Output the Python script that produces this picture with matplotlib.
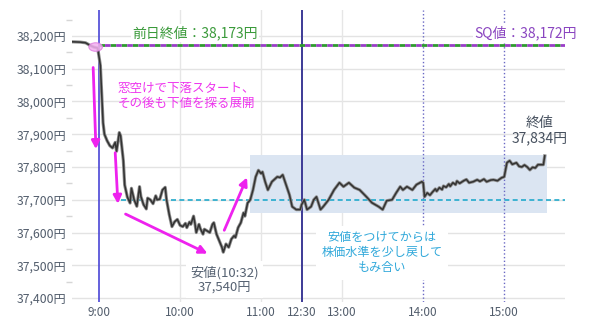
import matplotlib
matplotlib.use("Agg")
import matplotlib.pyplot as plt
from matplotlib.patches import Ellipse, Rectangle
from matplotlib.ticker import FuncFormatter, MultipleLocator

plt.rcParams['font.family'] = ['Noto Sans CJK JP', 'DejaVu Sans']

# intraday prices (clock time, yen)
times = ["8:40", "8:46", "8:50", "8:53", "8:56", "8:59",
         "9:01", "9:02", "9:03", "9:04", "9:06", "9:08", "9:10", "9:12", "9:13", "9:15",
         "9:16", "9:18", "9:19", "9:21", "9:23", "9:24", "9:26", "9:28", "9:30", "9:31",
         "9:33", "9:35", "9:36", "9:38", "9:40", "9:42", "9:43", "9:45", "9:47", "9:49",
         "9:50", "9:52", "9:54", "9:56", "9:58", "10:00", "10:02", "10:04", "10:05", "10:07",
         "10:08", "10:10", "10:11", "10:12", "10:14", "10:15", "10:17", "10:18", "10:20", "10:22",
         "10:24", "10:25", "10:27", "10:29", "10:31", "10:32", "10:34", "10:36", "10:38", "10:40",
         "10:41", "10:43", "10:45", "10:47", "10:48", "10:50", "10:52", "10:54", "10:56", "10:58",
         "11:00", "11:01", "11:03", "11:05", "11:08", "11:12", "11:14", "11:16", "11:19", "11:21",
         "11:23", "11:26", "11:29",
         "12:30", "12:32", "12:34", "12:37", "12:39", "12:41", "12:44", "12:46", "12:50", "12:54",
         "12:58", "13:01", "13:05", "13:09", "13:13", "13:18", "13:22", "13:27", "13:30", "13:33",
         "13:37", "13:40", "13:43", "13:45", "13:48", "13:52", "13:55", "13:59", "14:00", "14:01",
         "14:03", "14:05", "14:07", "14:09", "14:10", "14:12", "14:14", "14:15", "14:17", "14:19",
         "14:20", "14:22", "14:24", "14:25", "14:27", "14:30", "14:32", "14:34", "14:37", "14:40",
         "14:42", "14:45", "14:47", "14:50", "14:52", "14:55", "14:58", "15:00", "15:02", "15:04",
         "15:06", "15:09", "15:11", "15:13", "15:15", "15:17", "15:19", "15:21", "15:23", "15:25",
         "15:29", "15:30"]
prices = [38182, 38181, 38179, 38172, 38166, 38163,
          38110, 38020, 37935, 37900, 37880, 37865, 37858, 37875, 37848, 37905,
          37895, 37820, 37745, 37708, 37690, 37735, 37700, 37680, 37740, 37710,
          37685, 37672, 37705, 37700, 37688, 37712, 37700, 37702, 37730, 37738,
          37700, 37655, 37618, 37633, 37640, 37622, 37618, 37628, 37615, 37632,
          37625, 37650, 37628, 37600, 37625, 37612, 37595, 37610, 37605, 37600,
          37625, 37630, 37595, 37575, 37555, 37540, 37565, 37555, 37580, 37590,
          37585, 37615, 37630, 37660, 37650, 37690, 37700, 37730, 37770, 37790,
          37780, 37785, 37755, 37730, 37755, 37770, 37768, 37776, 37740, 37715,
          37679, 37670, 37670,
          37685, 37700, 37670, 37679, 37700, 37709, 37670, 37679, 37700, 37730,
          37752, 37740, 37752, 37737, 37730, 37709, 37691, 37679, 37670, 37697,
          37700, 37721, 37740, 37730, 37740, 37730, 37746, 37755, 37752, 37709,
          37721, 37714, 37724, 37733, 37726, 37737, 37731, 37742, 37738, 37748,
          37741, 37752, 37746, 37757, 37750, 37758, 37762, 37752, 37755, 37761,
          37756, 37763, 37755, 37760, 37761, 37758, 37767, 37770, 37813, 37819,
          37808, 37813, 37802, 37800, 37806, 37800, 37791, 37799, 37797, 37807,
          37807, 37834]

prev_close = 38173
sq_value = 38172
support = 37700
box_range = (37660, 37838)
box_times = ("10:52", "15:32")

xtick_times = ["9:00", "10:00", "11:00", "12:30", "13:00", "14:00", "15:00"]
grid_times = ["10:00", "11:00", "13:00"]


def pos(t):
    # minutes from 9:00, lunch break (11:30-12:30) removed
    h, m = t.split(":")
    v = int(h) * 60 + int(m) - 540
    if v >= 210:
        v -= 60
    return v


x = [pos(t) for t in times]

fig = plt.figure(figsize=(6, 3.23), dpi=100)
ax = fig.add_axes([72 / 600, 1 - 302 / 323, 493 / 600, 292 / 323])
ax.set_xlim(-20, 345)
ax.set_ylim(37388, 38279)

for s in ax.spines.values():
    s.set_visible(False)

# grid
ax.yaxis.set_major_locator(MultipleLocator(100))
ax.yaxis.set_minor_locator(MultipleLocator(50))
for v in range(37400, 38201, 100):
    ax.axhline(v, color="#e3e3e3", lw=1, zorder=0)
for t in grid_times:
    ax.axvline(pos(t), color="#e6e6e6", lw=1, zorder=0)

# range box
ax.add_patch(Rectangle((pos(box_times[0]), box_range[0]),
                       pos(box_times[1]) - pos(box_times[0]), box_range[1] - box_range[0],
                       facecolor="#dbe5f2", edgecolor="none", zorder=1))

# session lines
ax.axvline(pos("9:00"), color="#4a46d6", lw=1.2, zorder=2)
ax.axvline(pos("12:30"), color="#3c3a96", lw=1.4, zorder=2)
ax.axvline(pos("14:00"), color="#6a68c4", lw=1, ls=":", zorder=2)
ax.axvline(pos("15:00"), color="#6a68c4", lw=1, ls=":", zorder=2)

# previous close / SQ
ax.plot([0, 345], [prev_close, prev_close], color="#2e9a2e", lw=2, ls=(0, (2, 2)), zorder=3)
ax.plot([0, 345], [sq_value, sq_value], color="#9a3cc8", lw=2, ls=(2, (2, 2)), zorder=3)
ax.plot([pos("9:16"), 345], [support, support], color="#22aacc", lw=1.2, ls=(0, (3, 2)), zorder=3)

# price
ax.plot(x, prices, color="#8e8e8e", lw=2.3, zorder=4, solid_joinstyle="round")
ax.plot(x, prices, color="#333333", lw=1.1, zorder=5)

ax.add_patch(Ellipse((-2.5, 38166), 10, 26, facecolor="#f3b0f0", edgecolor="#e080e0",
                     lw=0.8, alpha=0.85, zorder=6))

# arrows
arrow = dict(arrowstyle="-|>", color="#ee22ee", lw=2, mutation_scale=12)
for (x0, y0), (x1, y1) in [((-4.4, 38112), (-2.2, 37846)),
                           ((11.9, 37852), (14.1, 37679)),
                           ((17.8, 37660), (82.2, 37532)),
                           ((91.9, 37599), (110.4, 37776))]:
    ax.annotate("", xy=(x1, y1), xytext=(x0, y0), arrowprops=arrow, zorder=7)

# labels
ax.text(71, 38209, "前日終値：38,173円", color="#3a9a3a", fontsize=10, ha="center", va="center",
        bbox=dict(facecolor="white", edgecolor="none", pad=1), zorder=8)
ax.text(354, 38209, "SQ値：38,172円", color="#8a45c0", fontsize=10, ha="right", va="center",
        bbox=dict(facecolor="white", edgecolor="none", pad=1), zorder=8, clip_on=False)
ax.text(64.4, 38017, "窓空けで下落スタート、\nその後も下値を探る展開", color="#ee33ee", fontsize=9,
        ha="center", va="center", linespacing=1.25, zorder=8)
ax.text(326, 37910, "終値\n37,834円", color="#46505e", fontsize=10, ha="center", va="center",
        linespacing=1.1, zorder=8, clip_on=False)
ax.text(92.6, 37456, "安値(10:32)\n37,540円", color="#566272", fontsize=9.5, ha="center",
        va="center", linespacing=1.15, zorder=8,
        bbox=dict(facecolor="white", edgecolor="none", pad=3))
ax.text(209.5, 37538, "安値をつけてからは\n株価水準を少し戻して\nもみ合い", color="#30a8da",
        fontsize=8.7, ha="center", va="center", linespacing=1.2, zorder=8,
        bbox=dict(facecolor="white", edgecolor="none", pad=4))

# ticks
ax.yaxis.set_major_formatter(FuncFormatter(lambda v, p: f"{int(v):,}円"))
ax.tick_params(axis="y", which="major", length=0, pad=4, labelsize=8.8, labelcolor="#525d6c")
ax.tick_params(axis="y", which="minor", length=4, width=1, color="#d6d6d6")
ax.set_xticks([pos(t) for t in xtick_times])
ax.set_xticklabels(xtick_times)
ax.tick_params(axis="x", length=0, pad=3, labelsize=8.5, labelcolor="#525d6c")

fig.savefig("out.png", dpi=100)
